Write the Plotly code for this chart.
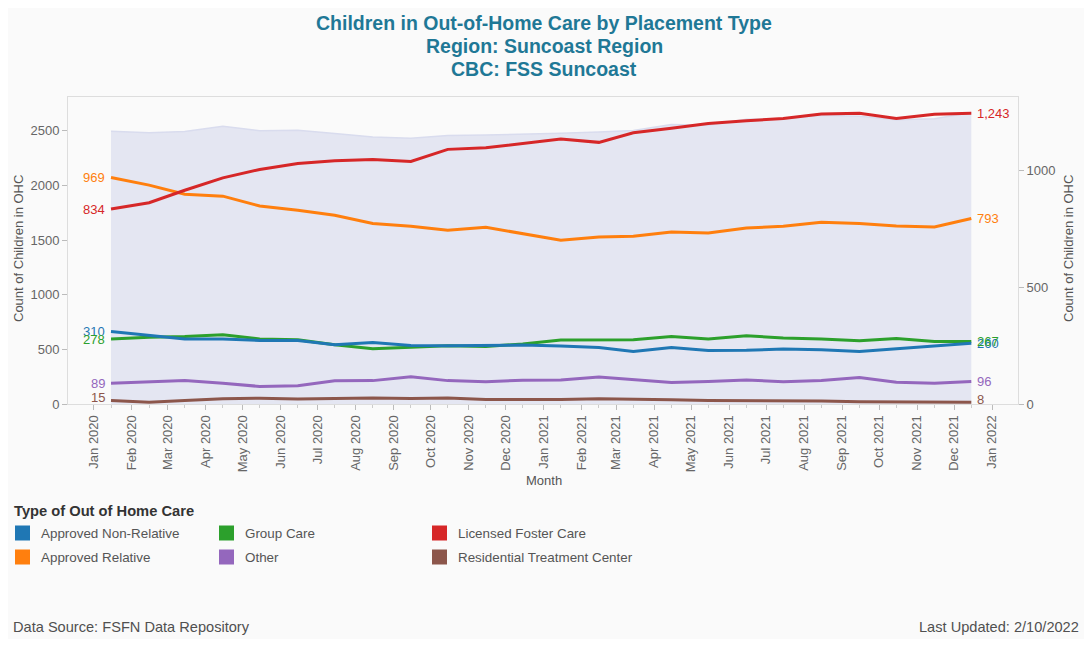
import plotly.graph_objects as go

# ---------------- data ----------------
months = ["2020-01-15", "2020-02-15", "2020-03-15", "2020-04-15", "2020-05-15", "2020-06-15",
          "2020-07-15", "2020-08-15", "2020-09-15", "2020-10-15", "2020-11-15", "2020-12-15",
          "2021-01-15", "2021-02-15", "2021-03-15", "2021-04-15", "2021-05-15", "2021-06-15",
          "2021-07-15", "2021-08-15", "2021-09-15", "2021-10-15", "2021-11-15", "2021-12-15"]

tick_dates = ["2020-01-01", "2020-02-01", "2020-03-01", "2020-04-01", "2020-05-01", "2020-06-01",
              "2020-07-01", "2020-08-01", "2020-09-01", "2020-10-01", "2020-11-01", "2020-12-01",
              "2021-01-01", "2021-02-01", "2021-03-01", "2021-04-01", "2021-05-01", "2021-06-01",
              "2021-07-01", "2021-08-01", "2021-09-01", "2021-10-01", "2021-11-01", "2021-12-01",
              "2022-01-01"]
tick_labels = ["Jan 2020", "Feb 2020", "Mar 2020", "Apr 2020", "May 2020", "Jun 2020",
               "Jul 2020", "Aug 2020", "Sep 2020", "Oct 2020", "Nov 2020", "Dec 2020",
               "Jan 2021", "Feb 2021", "Mar 2021", "Apr 2021", "May 2021", "Jun 2021",
               "Jul 2021", "Aug 2021", "Sep 2021", "Oct 2021", "Nov 2021", "Dec 2021",
               "Jan 2022"]

approved_non_relative = [310, 295, 278, 278, 272, 272, 253, 263, 250, 249, 249, 252,
                         248, 242, 225, 242, 229, 230, 235, 232, 225, 236, 250, 260]
approved_relative = [969, 936, 897, 889, 847, 829, 807, 772, 760, 743, 756, 729,
                     700, 714, 717, 736, 731, 753, 760, 777, 772, 761, 757, 793]
group_care = [278, 286, 289, 296, 278, 275, 253, 236, 243, 249, 246, 257,
              274, 275, 275, 289, 278, 292, 282, 278, 270, 280, 267, 267]
licensed_foster_care = [834, 861, 914, 967, 1003, 1029, 1040, 1046, 1037, 1089, 1096, 1114,
                        1133, 1119, 1160, 1179, 1200, 1211, 1221, 1240, 1243, 1221, 1239, 1243]
other = [89, 96, 100, 89, 75, 78, 99, 100, 117, 100, 95, 102,
         103, 115, 103, 92, 96, 103, 95, 100, 113, 93, 89, 96]
residential_treatment = [15, 8, 15, 22, 25, 21, 23, 26, 23, 26, 19, 18,
                         19, 22, 21, 18, 15, 15, 15, 13, 10, 10, 8, 8]

series = [
    ("Approved Non-Relative", approved_non_relative, "#1f77b4"),
    ("Approved Relative", approved_relative, "#ff7f0e"),
    ("Group Care", group_care, "#2ca02c"),
    ("Licensed Foster Care", licensed_foster_care, "#d62728"),
    ("Other", other, "#9467bd"),
    ("Residential Treatment Center", residential_treatment, "#8c564b"),
]
total = [sum(v) for v in zip(*[s[1] for s in series])]

# legend layout (column, row)
legend_order = [("Approved Non-Relative", 0, 0), ("Group Care", 1, 0), ("Licensed Foster Care", 2, 0),
                ("Approved Relative", 0, 1), ("Other", 1, 1), ("Residential Treatment Center", 2, 1)]

# ---------------- figure ----------------
OFF = 8  # page body margin
W, H = 1092 - 2 * OFF, 647 - 2 * OFF
# plot area in page pixels: x 68..1018, y 97..404
PL, PR, PT, PB = 68, 1018, 97, 404
L, T = PL - OFF, PT - OFF
R, B = W - (PR - OFF), H - (PB - OFF)
PW, PH = PR - PL, PB - PT


def px(x):  # page pixel -> paper x
    return (x - PL) / PW


def py(y):  # page pixel -> paper y
    return (PB - y) / PH


FONT = "Liberation Sans, Arial, sans-serif"
fig = go.Figure()

fig.add_trace(go.Scatter(
    x=months, y=total, yaxis="y", mode="lines", fill="tozeroy",
    fillcolor="#e4e6f2", line=dict(color="#d9dcee", width=1.5),
    hoverinfo="skip", showlegend=False))

draw_order = ["Residential Treatment Center", "Other", "Group Care", "Approved Non-Relative",
              "Approved Relative", "Licensed Foster Care"]
lookup = {s[0]: s for s in series}
for name in draw_order:
    n, vals, col = lookup[name]
    fig.add_trace(go.Scatter(x=months, y=vals, yaxis="y2", mode="lines", name=n,
                             line=dict(color=col, width=3), showlegend=False))

annotations = []
for n, vals, col in series:
    ys = 3 if n == "Residential Treatment Center" else 0
    annotations.append(dict(x=months[0], y=vals[0], xref="x", yref="y2", text=f"{vals[0]:,}",
                            xanchor="right", yanchor="middle", xshift=-4, yshift=ys, showarrow=False,
                            font=dict(family=FONT, size=13, color=col)))
    annotations.append(dict(x=months[-1], y=vals[-1], xref="x", yref="y2", text=f"{vals[-1]:,}",
                            xanchor="left", yanchor="middle", xshift=4, yshift=ys, showarrow=False,
                            font=dict(family=FONT, size=13, color=col)))

# titles
title_col = "#1f7896"
for txt, yy in [("Children in Out-of-Home Care by Placement Type", 23),
                ("Region: Suncoast Region", 46.5), ("CBC: FSS Suncoast", 69.5)]:
    annotations.append(dict(x=px(544), y=py(yy), xref="paper", yref="paper", text=f"<b>{txt}</b>",
                            showarrow=False, xanchor="center", yanchor="middle",
                            font=dict(family=FONT, size=19.5, color=title_col)))

# axis titles
axis_title_font = dict(family=FONT, size=13, color="#555555")
annotations.append(dict(x=px(18), y=py(249), xref="paper", yref="paper", text="Count of Children in OHC",
                        textangle=-90, showarrow=False, xanchor="center", yanchor="middle",
                        font=axis_title_font))
annotations.append(dict(x=px(1068), y=py(249), xref="paper", yref="paper", text="Count of Children in OHC",
                        textangle=-90, showarrow=False, xanchor="center", yanchor="middle",
                        font=axis_title_font))
annotations.append(dict(x=px(544), y=py(480), xref="paper", yref="paper", text="Month",
                        showarrow=False, xanchor="center", yanchor="middle",
                        font=axis_title_font))

# legend (manual)
annotations.append(dict(x=px(12), y=py(511), xref="paper", yref="paper", text="<b>Type of Out of Home Care</b>",
                        showarrow=False, xanchor="left", yanchor="middle",
                        font=dict(family=FONT, size=14.7, color="#333333")))
shapes = []
col_x = [15, 219, 432]
row_y = [533, 557]
for name, c, r in legend_order:
    color = lookup[name][2]
    x0, yc = col_x[c], row_y[r]
    shapes.append(dict(type="rect", xref="paper", yref="paper",
                       x0=px(x0), x1=px(x0 + 15), y0=py(yc - 7.5), y1=py(yc + 7.5),
                       fillcolor=color, line=dict(width=0)))
    annotations.append(dict(x=px(x0 + 24), y=py(yc), xref="paper", yref="paper", text=name,
                            showarrow=False, xanchor="left", yanchor="middle",
                            font=dict(family=FONT, size=13.4, color="#555555")))

# footer
footer_font = dict(family=FONT, size=14.6, color="#505050")
annotations.append(dict(x=px(11), y=py(627), xref="paper", yref="paper", text="Data Source: FSFN Data Repository",
                        showarrow=False, xanchor="left", yanchor="middle", font=footer_font))
annotations.append(dict(x=px(1081), y=py(627), xref="paper", yref="paper", text="Last Updated: 2/10/2022",
                        showarrow=False, xanchor="right", yanchor="middle", font=footer_font))

tickfont = dict(family=FONT, size=13, color="#666666")
fig.update_layout(
    width=W, height=H, autosize=False,
    margin=dict(l=L, r=R, t=T, b=B),
    paper_bgcolor="#fafafa", plot_bgcolor="#fafafa",
    showlegend=False,
    annotations=annotations, shapes=shapes,
    xaxis=dict(type="date", range=["2019-12-11", "2022-01-22"],
               tickmode="array", tickvals=tick_dates, ticktext=tick_labels, tickangle=-90,
               tickfont=tickfont, ticks="outside", ticklen=5, tickcolor="#bbbbbb",
               minor=dict(tickmode="array", tickvals=months, ticks="outside", ticklen=3, tickcolor="#cccccc"),
               showgrid=False, zeroline=False, showline=True, linecolor="#dddddd", mirror=True),
    yaxis=dict(range=[0, 2808], tickvals=[0, 500, 1000, 1500, 2000, 2500], tickfont=tickfont,
               ticks="outside", ticklen=5, tickcolor="#bbbbbb", showgrid=False, zeroline=False,
               showline=True, linecolor="#dddddd", mirror=True),
    yaxis2=dict(range=[0, 1313], tickvals=[0, 500, 1000], tickfont=tickfont, overlaying="y", side="right",
                ticks="outside", ticklen=5, tickcolor="#bbbbbb", showgrid=False, zeroline=False,
                showline=True, linecolor="#dddddd"),
)

fig.write_html("out.html")
